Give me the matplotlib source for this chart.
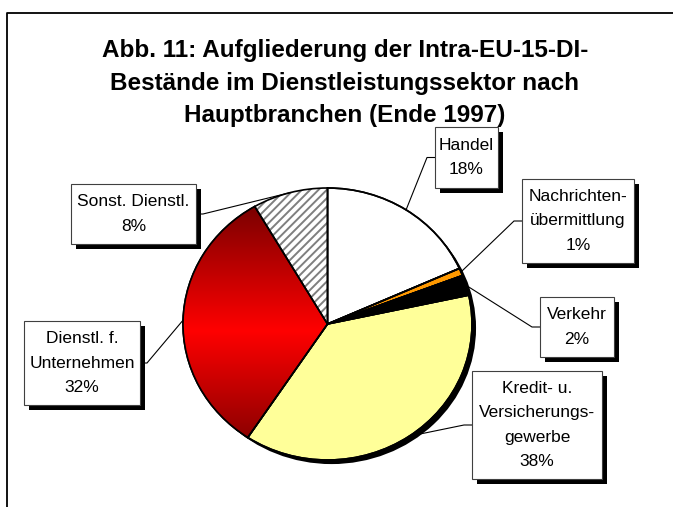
import numpy as np
import matplotlib
matplotlib.use('Agg')
import matplotlib.pyplot as plt
import matplotlib.patches as mpatches

plt.rcParams['font.family'] = ['Liberation Sans', 'DejaVu Sans']
plt.rcParams['hatch.linewidth'] = 1.4

# ---------------- data ----------------
title = ("Abb. 11: Aufgliederung der Intra-EU-15-DI-\n"
         "Bestände im Dienstleistungssektor nach\n"
         "Hauptbranchen (Ende 1997)")
categories = ["Handel",
              "Nachrichten-\nübermittlung",
              "Verkehr",
              "Kredit- u.\nVersicherungs-\ngewerbe",
              "Dienstl. f.\nUnternehmen",
              "Sonst. Dienstl."]
values = [18.3, 0.9, 2.4, 37.7, 32.3, 8.4]
shares = [round(v / sum(values) * 100) for v in values]

colors = ['white', '#FF9900', 'black', '#FFFF99', '#FF0000', 'white']

# ---------------- figure ----------------
W, H = 673, 507
fig = plt.figure(figsize=(W / 100, H / 100), dpi=100)
fig.patch.set_facecolor('white')

ov = fig.add_axes([0, 0, 1, 1], zorder=2)
ov.set_xlim(0, W)
ov.set_ylim(H, 0)
ov.axis('off')
ov.patch.set_alpha(0)

cx, cy, rx, ry = 327.5, 324, 144.5, 136
pax = fig.add_axes([(cx - rx) / W, 1 - (cy + ry) / H, 2 * rx / W, 2 * ry / H], zorder=1)
wedges, _ = pax.pie(values, colors=colors, startangle=90, counterclock=False,
                    wedgeprops=dict(edgecolor='black', linewidth=1.2))
for w in wedges:
    w.set_clip_on(False)

# drop shadow of the pie
pax.add_patch(mpatches.Ellipse((0.028, -0.03), 2, 2, fc='black', ec='none',
                               zorder=0, clip_on=False))

# gradient fill of "Dienstl. f. Unternehmen"
n = 400
yy = np.linspace(1, -1, n)[:, None]
t = np.clip(np.abs(yy + 0.05) / 0.88, 0, 1)
img = np.zeros((n, 2, 3))
img[..., 0] = 1.0 - 0.5 * t
im = pax.imshow(img, extent=(-1, 1, -1, 1), origin='upper', aspect='auto',
                zorder=1.5, interpolation='bilinear')
im.set_clip_path(wedges[4])

# hatch of "Sonst. Dienstl."
wedges[5].set_hatch('////')
wedges[5].set_edgecolor('#7f7f7f')
wedges[5].set_linewidth(0)

# outlines on top
for w in wedges:
    pax.add_patch(mpatches.Wedge(w.center, w.r, w.theta1, w.theta2, fill=False,
                                 ec='black', lw=1.2, zorder=3, clip_on=False))

pax.set_aspect('auto')
pax.set_xlim(-1, 1)
pax.set_ylim(-1, 1)
pax.axis('off')

# ---------------- labels ----------------
boxes = [(435, 127, 63, 61, 'L'),
         (522, 179, 112, 84, 'L'),
         (540, 297, 74, 60, 'L'),
         (472, 371, 130, 108, 'L'),
         (24, 321, 116, 84, 'R'),
         (71, 184, 125, 60, 'R')]

to_ov = ov.transData.inverted()
for w, cat, sh, (bx, by, bw, bh, side) in zip(wedges, categories, shares, boxes):
    mid = np.deg2rad((w.theta1 + w.theta2) / 2)
    px, py = to_ov.transform(pax.transData.transform((np.cos(mid), np.sin(mid))))
    ay = by + bh / 2
    if side == 'L':
        ax0, ax1 = bx, bx - 8
    else:
        ax0, ax1 = bx + bw, bx + bw + 7
    ov.plot([ax0, ax1, px], [ay, ay, py], color='black', lw=0.8, zorder=1,
            solid_joinstyle='miter')
    ov.add_patch(mpatches.Rectangle((bx + 5, by + 5), bw, bh, fc='black', ec='none', zorder=2))
    ov.add_patch(mpatches.Rectangle((bx, by), bw, bh, fc='white', ec='#404040', lw=0.8, zorder=3))
    ov.text(bx + bw / 2, by + bh / 2, f"{cat}\n{sh}%", ha='center', va='center',
            multialignment='center', fontsize=12.5, linespacing=1.78, zorder=4)

# title
ov.text(345, 39, title, ha='center', va='top', fontsize=17.5, fontweight='bold',
        linespacing=1.53, zorder=4)

# outer frame
ov.plot([7, 7, W + 10], [H + 10, 12.5, 12.5], color='black', lw=1.3, zorder=0,
        clip_on=False)

fig.savefig('out.png', dpi=100, facecolor='white')
